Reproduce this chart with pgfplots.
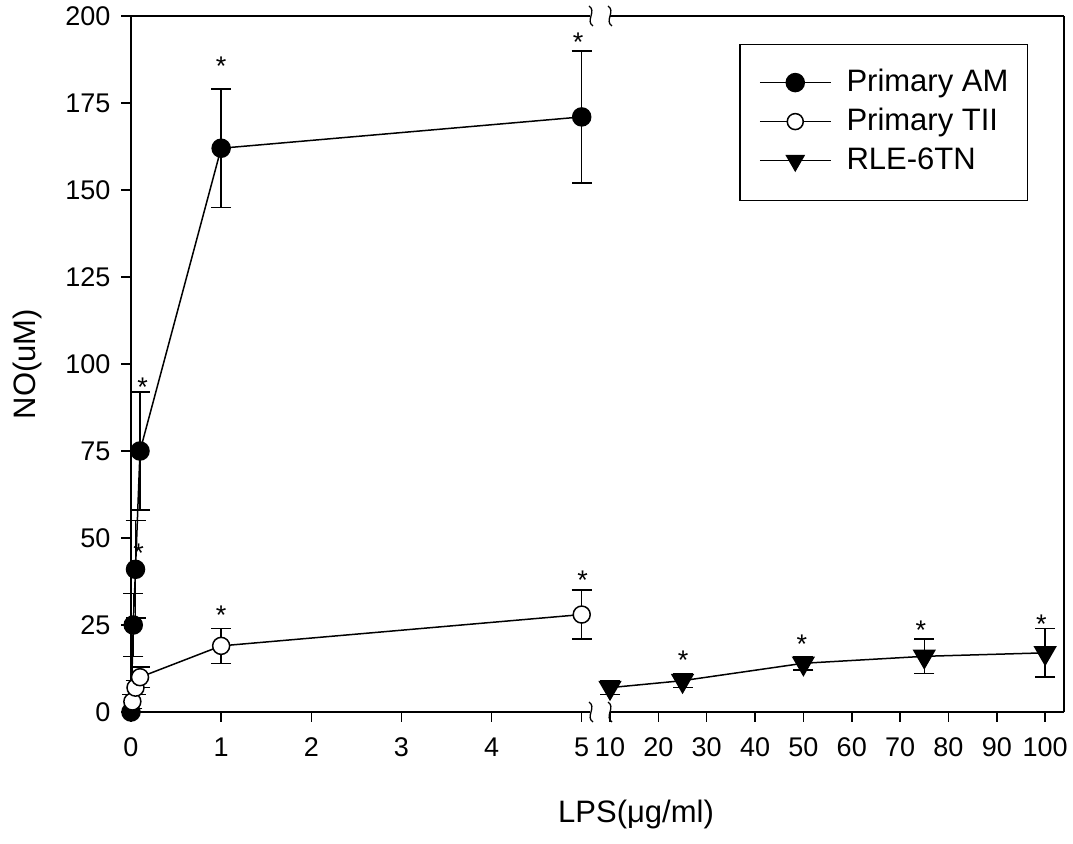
\documentclass[border=0pt]{standalone}
\usepackage{fontspec}
\setmainfont{Liberation Sans}
\usepackage{pgfplots}
\pgfplotsset{compat=1.18}
\usepackage{pgfplotstable}

\pgfplotstableread{
x y e
0 0 0
0.025 25 9
0.05 41 14
0.1 75 17
1 162 17
5 171 19
}\am
\pgfplotstableread{
x y e
0.015 3 2
0.05 7 2
0.1 10 3
1 19 5
5 28 7
}\tii
\pgfplotstableread{
x y e
10 7 2
25 9 2
50 14 2
75 16 5
100 17 7
}\rle

\newcommand{\tickfont}{\fontsize{27bp}{30bp}\selectfont}
\newcommand{\labfont}{\fontsize{31bp}{36bp}\selectfont}
\newcommand{\legfont}{\fontsize{31bp}{36bp}\selectfont}
\tikzset{ast/.style={font=\tickfont, yshift=-5bp, inner sep=0pt}}

\begin{document}
\begin{tikzpicture}
\useasboundingbox (0bp,0bp) rectangle (1073bp,844bp);
\pgfplotsset{
  myax/.style={
    scale only axis, height=696bp, ymin=0, ymax=200,
    anchor=south west,
    tick align=outside, major tick length=10bp,
    every tick/.style={black, line width=1.5bp},
    axis line style={line width=1.5bp},
    tick label style={font=\tickfont},
    xticklabel style={yshift=-12bp},
    yticklabel style={xshift=-7bp},
    /pgf/number format/assume math mode=true,
    clip=false,
    legend image code/.code={\draw[mark repeat=2, mark phase=2, ##1] plot coordinates {(0bp,1bp) (35.5bp,1bp) (71bp,1bp)};},
  },
  ebar/.style={black, line width=1.5bp,
    /pgfplots/error bars/y dir=both,
    /pgfplots/error bars/y explicit,
    /pgfplots/error bars/error bar style={line width=1.5bp},
    /pgfplots/error bars/error mark options={black, line width=1.5bp, mark size=10bp, rotate=90}},
}
% left segment
\begin{axis}[myax, at={(131bp,132bp)}, width=459bp, xmin=0, xmax=5.092,
  axis x line*=bottom, axis y line*=left,
  xtick={0,1,2,3,4,5}, ytick={0,25,...,200}]
  \addplot[ebar, mark=*, mark size=9bp] table[x=x, y=y, y error=e] {\am};
  \addplot[ebar, mark=*, mark size=8.5bp, mark options={fill=white, line width=1.5bp}] table[x=x, y=y, y error=e] {\tii};
  \draw[line width=1.5bp] (rel axis cs:0,1) -- (rel axis cs:1,1);
  \node[ast] at (axis cs:0.084,47.1) {*};
  \node[ast] at (axis cs:0.128,94.9) {*};
  \node[ast] at (axis cs:1.0,187) {*};
  \node[ast] at (axis cs:4.96,194) {*};
  \node[ast] at (axis cs:1.0,29.3) {*};
  \node[ast] at (axis cs:5.01,39.4) {*};
\end{axis}
% right segment
\begin{axis}[myax, at={(610bp,132bp)}, width=454bp, xmin=10, xmax=103.9,
  axis x line*=bottom, axis y line*=right,
  xtick={10,20,...,100}, ytick=\empty,
  legend style={at={(1,1)}, anchor=north east, xshift=-36bp, yshift=-28bp,
    draw=black, line width=1.2bp, font=\legfont,
    inner xsep=19bp, inner ysep=25bp, row sep=11bp, column sep=15bp,
    nodes={inner sep=0bp, text height=22bp, text depth=6bp},
    cells={anchor=west}},
  legend cell align=left]
  \addlegendimage{black, line width=1.5bp, mark=*, mark size=9bp}
  \addlegendentry{Primary AM}
  \addlegendimage{black, line width=1.5bp, mark=*, mark size=8bp, mark options={fill=white}}
  \addlegendentry{Primary TII}
  \addlegendimage{black, line width=1.5bp, mark=triangle*, mark size=10bp, mark options={rotate=180}}
  \addlegendentry{RLE-6TN}
  \addplot[ebar, mark=triangle*, mark size=12bp, mark options={rotate=180}, forget plot] table[x=x, y=y, y error=e] {\rle};
  \draw[line width=1.5bp] (rel axis cs:0,1) -- (rel axis cs:1,1);
  \node[ast] at (axis cs:25.1,16.4) {*};
  \node[ast] at (axis cs:49.7,20.9) {*};
  \node[ast] at (axis cs:74.3,25) {*};
  \node[ast] at (axis cs:99.2,26.6) {*};
\end{axis}
% axis breaks
\foreach \xx in {591,610}{
  \foreach \yy in {132,828}{
    \draw[line width=1.3bp] (\xx bp-2bp,\yy bp+10bp) .. controls (\xx bp+6bp,\yy bp+5bp) and (\xx bp-6bp,\yy bp-5bp) .. (\xx bp+2bp,\yy bp-10bp);
  }
}
\node[rotate=90, anchor=base, font=\labfont] at (35bp,480bp) {NO(uM)};
\node[anchor=base, font=\labfont] at (636bp,22bp) {LPS(μg/ml)};
\end{tikzpicture}
\end{document}
